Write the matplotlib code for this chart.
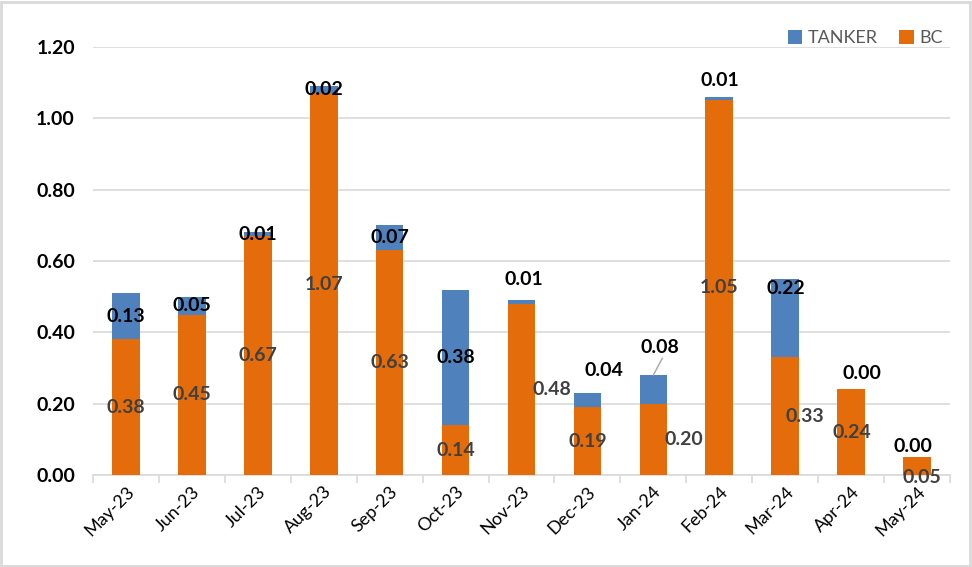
import matplotlib
matplotlib.use("Agg")
import matplotlib.pyplot as plt
from matplotlib.patches import Rectangle
import numpy as np

months = ["May-23", "Jun-23", "Jul-23", "Aug-23", "Sep-23", "Oct-23", "Nov-23",
          "Dec-23", "Jan-24", "Feb-24", "Mar-24", "Apr-24", "May-24"]
bc = [0.38, 0.45, 0.67, 1.07, 0.63, 0.14, 0.48, 0.19, 0.20, 1.05, 0.33, 0.24, 0.05]
tanker = [0.13, 0.05, 0.01, 0.02, 0.07, 0.38, 0.01, 0.04, 0.08, 0.01, 0.22, 0.00, 0.00]
yticks = [0.0, 0.2, 0.4, 0.6, 0.8, 1.0, 1.2]

# label offsets in pixels (dx, dy up) from segment centre (manual Excel placements)
bc_off = [(0, 0), (0, 0), (0, 0), (0, 0), (0, 0), (0, 0), (30, 0),
          (0, 0), (31, 0), (0, 0), (20, 0), (1, 0), (5, -11)]
tk_off = [(0, 0), (0, 0), (0, 0), (0, 0), (0, 0), (0, 0), (2, 23),
          (17, 30), (7, 42), (1, 18), (1, 30), (11, 16), (-4, 11)]

plt.rcParams['font.family'] = ['Lato', 'DejaVu Sans']

BLUE = "#4F81BD"
ORANGE = "#E46C0A"

fig = plt.figure(figsize=(9.72, 5.67), dpi=100)
ax = fig.add_axes([93/972, 1 - 475/567, (950 - 93)/972, (475 - 47)/567])

x = np.arange(len(months))
w = 0.42
ax.bar(x, bc, width=w, color=ORANGE, label="BC", zorder=3)
ax.bar(x, tanker, width=w, bottom=bc, color=BLUE, label="TANKER", zorder=3)

px2pt = 0.72
for i in range(len(months)):
    dx, dy = bc_off[i]
    ax.annotate(f"{bc[i]:.2f}", (x[i], bc[i] / 2), xytext=(dx * px2pt, dy * px2pt),
                textcoords="offset points", ha="center", va="center",
                fontsize=14, fontweight="bold", color="#404040", zorder=5)
    dx, dy = tk_off[i]
    tc = bc[i] + tanker[i] / 2
    ax.annotate(f"{tanker[i]:.2f}", (x[i], tc), xytext=(dx * px2pt, dy * px2pt),
                textcoords="offset points", ha="center", va="center",
                fontsize=14, fontweight="bold", color="black", zorder=5)

# leader line for Jan-24 tanker label
ax.annotate("", xy=(x[8], bc[8] + tanker[8]), xytext=(9 * px2pt, 17 * px2pt),
            textcoords="offset points",
            arrowprops=dict(arrowstyle="-", color="#A6A6A6", lw=1, shrinkA=0, shrinkB=0))

ax.set_xlim(-0.5, len(months) - 0.5)
ax.set_ylim(0, 1.2)
ax.set_yticks(yticks)
ax.set_yticklabels([f"{v:.2f}" for v in yticks], fontsize=14, fontweight="bold", color="black")
ax.tick_params(axis="y", length=0, pad=13)
ax.yaxis.grid(True, color="#D9D9D9", lw=1.2, zorder=0)
ax.set_axisbelow(True)

ax.set_xticks(x)
ax.set_xticklabels(months, rotation=45, ha="right", rotation_mode="anchor",
                   fontsize=13, color="black")
ax.tick_params(axis="x", length=0, pad=6)
ax.set_xticks(np.arange(-0.5, len(months), 1), minor=True)
ax.tick_params(axis="x", which="minor", length=6, color="#D9D9D9", width=1.2)

for s in ["top", "right", "left"]:
    ax.spines[s].set_visible(False)
ax.spines["bottom"].set_color("#D9D9D9")
ax.spines["bottom"].set_linewidth(1.2)

h, l = ax.get_legend_handles_labels()
leg = ax.legend(h[::-1], l[::-1], loc="lower right", bbox_to_anchor=(1.0, 0.985),
                ncol=2, frameon=False, fontsize=13, handlelength=0.8, handleheight=0.8,
                handletextpad=0.3, columnspacing=1.2, borderaxespad=0)
for t in leg.get_texts():
    t.set_color("#595959")

fig.patches.append(Rectangle((0.001, 0.002), 0.997, 0.995, transform=fig.transFigure,
                             fill=False, edgecolor="#D9D9D9", lw=2))

fig.savefig("out.png", dpi=100)
